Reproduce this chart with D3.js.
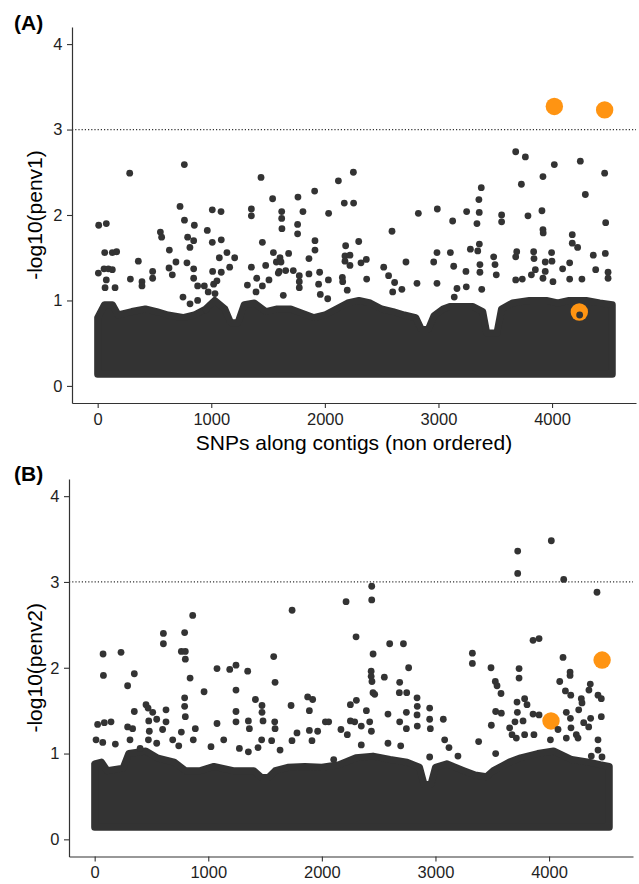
<!DOCTYPE html>
<html><head><meta charset="utf-8">
<script src="https://cdn.jsdelivr.net/npm/d3@7"></script>
<style>body{margin:0;background:#fff}svg{display:block;font-family:"Liberation Sans",Arial,Helvetica,sans-serif}</style>
</head><body>
<svg id="chart" width="639" height="884"></svg>
<script>
// ---- data ----
const xTicks = [0, 1000, 2000, 3000, 4000];
const yTicks = [0, 1, 2, 3, 4];
const threshold = 3;
const minA = 0.135, minB = 0.14;

// upper edge of the saturated cloud of SNPs  [SNP index, -log10 p]
const envA = [[0,0.80],[60,0.95],[130,0.95],[180,0.83],[300,0.87],[420,0.9],[520,0.87],[620,0.83],[750,0.8],[850,0.83],[950,0.9],[1030,1.0],[1120,0.9],[1170,0.74],[1235,0.74],[1290,0.95],[1380,0.97],[1480,0.87],[1580,0.9],[1700,0.9],[1800,0.85],[1900,0.8],[2000,0.83],[2100,0.9],[2200,0.97],[2300,1.0],[2400,0.97],[2500,0.9],[2600,0.87],[2700,0.83],[2800,0.8],[2850,0.66],[2910,0.66],[2960,0.82],[3040,0.9],[3100,0.93],[3200,0.93],[3300,0.93],[3390,0.87],[3425,0.62],[3515,0.62],[3555,0.9],[3650,0.97],[3800,1.0],[3950,1.0],[4050,0.97],[4150,1.0],[4300,1.0],[4420,0.97],[4530,0.95]];
const envB = [[0,0.88],[60,0.9],[110,0.8],[250,0.83],[300,1.0],[450,1.03],[550,0.95],[700,0.9],[800,0.8],[930,0.8],[1050,0.85],[1220,0.8],[1400,0.8],[1470,0.72],[1530,0.72],[1590,0.8],[1700,0.84],[1850,0.85],[2000,0.84],[2150,0.87],[2300,0.95],[2450,0.97],[2600,0.93],[2750,0.9],[2860,0.84],[2900,0.64],[2960,0.64],[3000,0.84],[3100,0.88],[3250,0.8],[3350,0.75],[3450,0.73],[3510,0.8],[3650,0.9],[3750,0.95],[3900,1.0],[4040,1.03],[4200,0.93],[4350,0.9],[4450,0.87],[4530,0.85]];

// individual SNPs above the cloud
const ptsA = [[282,2.49],[763,2.59],[1438,2.44],[2119,2.40],[2251,2.50],[1910,2.28],[1763,2.21],[1540,2.19],[2171,2.14],[2253,2.14],[725,2.10],[1009,2.06],[1086,2.04],[1353,2.07],[1353,1.99],[1620,2.04],[1620,1.96],[1622,1.84],[1807,2.04],[1760,1.89],[1760,1.78],[2033,2.02],[9,1.88],[76,1.90],[764,1.94],[851,1.88],[965,1.82],[552,1.80],[563,1.74],[792,1.74],[845,1.70],[812,1.62],[1009,1.68],[1088,1.71],[1450,1.68],[1913,1.70],[1913,1.59],[631,1.59],[62,1.56],[129,1.56],[167,1.57],[1138,1.56],[1206,1.50],[1071,1.50],[1547,1.56],[1605,1.50],[1681,1.55],[1573,1.45],[1614,1.45],[1860,1.49],[358,1.46],[689,1.45],[786,1.44],[628,1.38],[657,1.30],[484,1.34],[484,1.26],[845,1.37],[1162,1.39],[1012,1.34],[1088,1.33],[1353,1.39],[1479,1.41],[1598,1.34],[1590,1.32],[1655,1.35],[1722,1.35],[1775,1.29],[1775,1.22],[1775,1.15],[1954,1.33],[1860,1.31],[2031,1.24],[1945,1.19],[1960,1.07],[2025,1.02],[2154,1.27],[2157,1.22],[2177,1.52],[2177,1.46],[2183,1.64],[2221,1.53],[2221,1.41],[2197,1.12],[6,1.32],[56,1.37],[94,1.37],[129,1.36],[76,1.24],[65,1.15],[153,1.15],[288,1.25],[390,1.22],[390,1.17],[845,1.26],[880,1.17],[939,1.17],[973,1.10],[1021,1.19],[1050,1.23],[1033,1.08],[1318,1.18],[1400,1.26],[1394,1.10],[1450,1.17],[1508,1.24],[1634,1.06],[751,1.04],[813,0.96],[880,1.00],[954,0.89],
[3680,2.74],[3765,2.68],[4020,2.59],[4249,2.63],[4463,2.49],[3920,2.45],[3730,2.36],[4293,2.24],[3377,2.32],[3356,2.18],[2823,2.02],[2990,2.07],[3125,1.93],[3248,2.04],[3359,2.03],[3339,1.90],[3556,2.00],[3556,1.92],[3788,1.99],[3911,2.05],[3920,1.83],[3922,1.79],[4472,1.91],[4178,1.77],[4178,1.67],[4225,1.62],[2591,1.81],[2298,1.69],[3360,1.66],[3346,1.58],[3281,1.60],[2987,1.56],[3105,1.56],[2958,1.45],[3134,1.40],[2714,1.45],[2518,1.39],[2561,1.29],[2614,1.21],[2365,1.48],[2318,1.44],[2368,1.25],[2811,1.20],[2987,1.20],[3242,1.34],[3245,1.16],[3365,1.42],[3365,1.33],[3486,1.51],[3498,1.42],[3509,1.30],[3689,1.57],[3680,1.51],[3838,1.57],[3841,1.49],[3996,1.56],[3999,1.46],[3940,1.45],[4093,1.37],[4155,1.44],[3853,1.36],[3818,1.30],[3680,1.24],[3738,1.25],[3920,1.26],[3940,1.34],[4008,1.22],[4155,1.25],[4263,1.25],[4363,1.53],[4469,1.55],[4384,1.36],[4493,1.33],[4493,1.26],[3163,1.14],[3139,1.04],[3381,1.13],[2678,1.13],[2597,1.10],[4243,0.83]];

const ptsB = [[2213,2.77],[1738,2.67],[863,2.61],[605,2.40],[605,2.28],[792,2.41],[763,2.19],[798,2.19],[798,2.10],[840,1.88],[74,2.16],[232,2.18],[77,1.91],[349,1.93],[290,1.79],[1576,2.13],[1588,1.83],[1077,1.99],[1189,1.98],[1244,2.03],[1347,1.96],[1244,1.74],[963,1.72],[792,1.65],[792,1.55],[798,1.43],[1415,1.63],[1473,1.56],[1473,1.48],[1482,1.38],[1585,1.37],[1588,1.29],[1244,1.49],[1244,1.37],[1353,1.38],[1362,1.29],[1077,1.35],[1136,1.16],[1729,1.56],[1875,1.66],[1919,1.63],[1890,1.50],[2031,1.37],[2060,1.37],[2251,1.57],[2251,1.38],[349,1.49],[452,1.57],[470,1.53],[628,1.51],[628,1.37],[511,1.48],[546,1.40],[476,1.38],[26,1.34],[85,1.36],[144,1.37],[290,1.31],[334,1.29],[598,1.28],[481,1.26],[12,1.16],[71,1.13],[182,1.11],[311,1.16],[886,1.29],[868,1.16],[763,1.25],[687,1.16],[740,1.09],[400,1.06],[473,1.16],[546,1.12],[1024,1.08],[1274,1.06],[1353,1.02],[1438,1.07],[1470,1.16],[1558,1.15],[1632,1.04],[1737,1.15],[1781,1.24],[1890,1.27],[1963,1.26],[1913,1.15],[2168,1.28],[2224,1.22],[2104,0.93],
[3724,3.36],[3724,3.10],[4020,3.48],[4129,3.03],[4422,2.88],[2439,2.95],[2439,2.79],[2301,2.36],[2451,2.16],[2597,2.28],[2718,2.28],[2764,2.00],[2434,1.96],[2434,1.90],[2550,1.89],[3325,2.17],[3325,2.05],[3489,2.00],[3736,1.99],[3859,2.32],[3912,2.34],[4123,2.12],[4185,1.95],[4185,1.91],[2441,1.84],[2450,1.71],[2465,1.69],[2685,1.83],[2682,1.71],[2747,1.71],[2838,1.65],[2840,1.55],[2838,1.45],[2840,1.32],[2744,1.48],[2744,1.29],[2685,1.37],[2949,1.53],[2949,1.40],[2955,1.29],[3069,1.40],[2582,1.46],[2392,1.50],[2421,1.37],[2347,1.32],[2304,1.62],[2289,1.37],[3527,1.84],[3542,1.79],[3577,1.70],[3530,1.49],[3580,1.47],[3492,1.33],[3736,1.88],[3718,1.60],[3785,1.64],[3806,1.57],[3721,1.48],[3771,1.38],[3700,1.37],[3653,1.30],[4094,1.84],[4144,1.73],[4191,1.68],[4363,1.81],[4351,1.74],[4284,1.64],[4290,1.59],[4261,1.51],[4431,1.68],[4460,1.64],[4460,1.43],[4366,1.41],[4305,1.36],[4349,1.31],[3859,1.46],[3912,1.45],[4152,1.48],[4188,1.41],[4193,1.30],[4079,1.28],[4152,1.18],[4012,1.16],[3867,1.22],[3785,1.22],[3712,1.18],[3674,1.22],[4240,1.22],[4255,1.18],[4431,1.16],[4431,1.04],[4466,0.96],[4372,0.97],[3380,1.14],[3081,1.16],[3119,1.07],[2949,0.96],[3198,0.97],[3530,1.00],[2582,1.12],[2694,1.09],[2347,1.10],[2436,1.26]];

// highlighted (outlier) SNPs
const hiA = [[4020,3.27],[4463,3.23],[4240,0.865]];
const hiB = [[4017,1.38],[4467,2.09]];

// ---- drawing ----
const DARK = "#333333", ORANGE = "#FF9412";
const svg = d3.select("#chart");

function panel(o) {
  const g = svg.append("g");
  const x = d3.scaleLinear().domain([-226, 4739]).range([o.left, o.right]);
  const y = d3.scaleLinear().domain([-0.2, 4.2]).range([o.bottom, o.top]);

  // dense cloud
  const area = d3.area().x(d => x(d[0])).y0(y(o.min)).y1(d => y(d[1])).curve(d3.curveLinear);
  g.append("path").datum(o.env).attr("d", area)
    .attr("fill", DARK).attr("stroke", DARK).attr("stroke-width", 7).attr("stroke-linejoin", "round");

  // highlighted
  g.append("g").selectAll("circle").data(o.hi).join("circle")
    .attr("cx", d => x(d[0])).attr("cy", d => y(d[1])).attr("r", 8.7).attr("fill", ORANGE);

  // points
  g.append("g").selectAll("circle").data(o.pts).join("circle")
    .attr("cx", d => x(d[0])).attr("cy", d => y(d[1])).attr("r", 3.4).attr("fill", DARK);

  // threshold
  g.append("line").attr("x1", o.left).attr("x2", o.right)
    .attr("y1", y(threshold)).attr("y2", y(threshold))
    .attr("stroke", DARK).attr("stroke-width", 1.2).attr("stroke-dasharray", "1.2,2.0");

  // axes
  const ya = g.append("g").attr("transform", `translate(${o.left},0)`)
    .call(d3.axisLeft(y).tickValues(yTicks).tickSize(5).tickSizeOuter(0).tickPadding(4.5).tickFormat(d3.format("d")));
  const xa = g.append("g").attr("transform", `translate(0,${o.bottom})`)
    .call(d3.axisBottom(x).tickValues(xTicks).tickSize(5).tickSizeOuter(0).tickPadding(5).tickFormat(d3.format("d")));
  [ya, xa].forEach(a => {
    a.select(".domain").attr("stroke", DARK).attr("stroke-width", 1.2);
    a.selectAll(".tick line").attr("stroke", DARK).attr("stroke-width", 1.1);
    a.selectAll(".tick text").attr("fill", "#1f1f1f").attr("font-size", 16.5)
      .attr("font-family", '"Liberation Sans",Arial,sans-serif');
  });

  // titles
  g.append("text").attr("transform", `translate(42,${(o.top + o.bottom) / 2}) rotate(-90)`)
    .attr("text-anchor", "middle").attr("font-size", 21).attr("fill", "#000").text(o.ylab);
  if (o.xlab) {
    g.append("text").attr("x", (o.left + o.right) / 2).attr("y", o.bottom + 47)
      .attr("text-anchor", "middle").attr("font-size", 21).attr("fill", "#000").text(o.xlab);
  }
  g.append("text").attr("x", 14).attr("y", o.tagY).attr("font-size", 21)
    .attr("font-weight", "bold").attr("fill", "#000").text(o.tag);
}

panel({left: 72, right: 636, top: 27, bottom: 403, env: envA, min: minA, pts: ptsA, hi: hiA,
       ylab: "-log10(penv1)", xlab: "SNPs along contigs (non ordered)", tag: "(A)", tagY: 30});
panel({left: 69, right: 633, top: 479, bottom: 856.5, env: envB, min: minB, pts: ptsB, hi: hiB,
       ylab: "-log10(penv2)", xlab: null, tag: "(B)", tagY: 481});
</script>
</body></html>
